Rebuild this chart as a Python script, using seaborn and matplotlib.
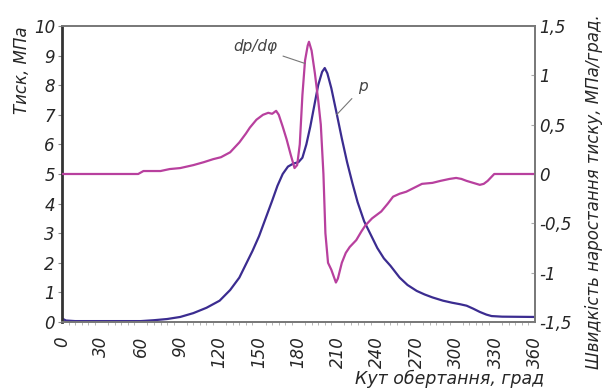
import matplotlib
matplotlib.use('Agg')
import matplotlib.pyplot as plt
import seaborn as sns
from matplotlib.ticker import MultipleLocator

# кут повороту колінчастого вала, град / тиск, МПа
p_angle = [0, 3, 10, 30, 60, 70, 80, 90, 100, 110, 120, 128, 135, 140, 145, 150, 155, 160,
           164, 168, 172, 176, 180, 183, 186, 189, 192, 195, 198, 200, 202, 205, 209, 213,
           217, 221, 225, 230, 235, 240, 245, 250, 257, 263, 270, 276, 282, 290, 297, 303,
           308, 313, 318, 323, 327, 335, 360]
p_value = [0.12, 0.05, 0.03, 0.03, 0.03, 0.06, 0.1, 0.17, 0.3, 0.48, 0.72, 1.08, 1.5, 1.95,
           2.4, 2.9, 3.5, 4.1, 4.6, 5.0, 5.25, 5.35, 5.4, 5.55, 6.0, 6.6, 7.3, 8.0, 8.45, 8.58,
           8.4, 7.9, 7.06, 6.2, 5.4, 4.7, 4.05, 3.4, 2.95, 2.5, 2.15, 1.9, 1.5, 1.25, 1.05,
           0.93, 0.83, 0.72, 0.65, 0.6, 0.55, 0.45, 0.34, 0.25, 0.2, 0.18, 0.17]

# швидкість наростання тиску dp/dφ, МПа/град
dp_angle = [0, 58, 62, 75, 82, 90, 100, 108, 115, 121, 128, 135, 140, 143, 148, 153, 157,
            160, 163, 165, 168, 171, 174, 177, 179, 181, 183, 185, 187, 188, 190, 192.5, 195,
            197, 199, 200.5, 202.5, 205, 208.5, 210, 213, 216, 219, 224, 228, 231, 236, 243,
            248, 252, 257, 262, 268, 274, 282, 288, 295, 300, 304, 308, 313, 318, 321, 324,
            329, 360]
dp_value = [0, 0, 0.03, 0.03, 0.05, 0.06, 0.09, 0.12, 0.15, 0.17, 0.22, 0.32, 0.41, 0.47,
            0.55, 0.6, 0.62, 0.61, 0.64, 0.6, 0.48, 0.35, 0.2, 0.06, 0.09, 0.3, 0.8, 1.15, 1.3,
            1.34, 1.25, 1.02, 0.75, 0.5, 0.0, -0.6, -0.9, -0.97, -1.1, -1.06, -0.9, -0.8, -0.74,
            -0.67, -0.58, -0.52, -0.45, -0.38, -0.3, -0.23, -0.2, -0.18, -0.14, -0.10, -0.09,
            -0.07, -0.05, -0.04, -0.05, -0.07, -0.09, -0.11, -0.1, -0.07, 0, 0]

x_ticks = list(range(0, 361, 30))
p_ticks = list(range(0, 11))
dp_ticks = [-1.5, -1, -0.5, 0, 0.5, 1, 1.5]
dp_tick_labels = ['-1,5', '-1', '-0,5', '0', '0,5', '1', '1,5']

p_color = '#3b2c90'
dp_color = '#b8409e'

sns.set_style('white')
plt.rcParams['font.family'] = ['DejaVu Sans']
plt.rcParams['font.style'] = 'italic'

fig = plt.figure(figsize=(6.04, 3.92), dpi=100)
ax = fig.add_axes([0.1026, 0.1786, 0.7831, 0.7551])
ax2 = ax.twinx()

sns.lineplot(x=p_angle, y=p_value, ax=ax, color=p_color, linewidth=1.6)
sns.lineplot(x=dp_angle, y=dp_value, ax=ax2, color=dp_color, linewidth=1.6)

ax.set_xlim(0, 360)
ax.set_ylim(0, 10)
ax2.set_ylim(-1.5, 1.5)

ax.set_xticks(x_ticks)
ax.set_xticklabels([str(t) for t in x_ticks], rotation=90, fontsize=12)
ax.xaxis.set_minor_locator(MultipleLocator(5))
ax.set_yticks(p_ticks)
ax.set_yticklabels([str(t) for t in p_ticks], fontsize=12)
ax2.set_yticks(dp_ticks)
ax2.set_yticklabels(dp_tick_labels, fontsize=12)

ax.tick_params(axis='x', which='major', direction='out', length=4, color='#888888', pad=6)
ax.tick_params(axis='x', which='minor', direction='out', length=2, color='#aaaaaa', bottom=True)
ax.tick_params(axis='y', direction='out', length=3, color='#888888', pad=2)
ax2.tick_params(axis='y', direction='in', length=3, color='#aaaaaa', pad=3)

# рамка
for sp in ['top', 'right', 'bottom']:
    ax.spines[sp].set_color('#777777')
    ax.spines[sp].set_linewidth(1.2)
    ax2.spines[sp].set_color('#777777')
    ax2.spines[sp].set_linewidth(1.2)
ax.spines['left'].set_color('#333333')
ax.spines['left'].set_linewidth(2)
ax2.spines['left'].set_visible(False)

ax.set_xlabel('Кут обертання, град', fontsize=12.5, ha='right')
ax.xaxis.set_label_coords(1.02, -0.16)
ax.set_ylabel('Тиск, МПа', fontsize=12, loc='top', labelpad=2)
ax2.set_ylabel('Швидкість наростання тиску, МПа/град.', fontsize=12)
ax2.yaxis.set_label_coords(1.105, 0.44)

# підписи кривих
ax2.annotate('dp/d\u03c6', xy=(185, 1.12), xytext=(147, 1.29), fontsize=11, color='#444444',
             ha='center', va='center',
             arrowprops=dict(arrowstyle='-', color='#777777', lw=0.8, shrinkA=2, shrinkB=0))
ax.annotate('p', xy=(209, 7.0), xytext=(229, 7.94), fontsize=11, color='#444444',
            ha='center', va='center',
            arrowprops=dict(arrowstyle='-', color='#777777', lw=0.8, shrinkA=3, shrinkB=0))

fig.savefig('out.png', dpi=100)
